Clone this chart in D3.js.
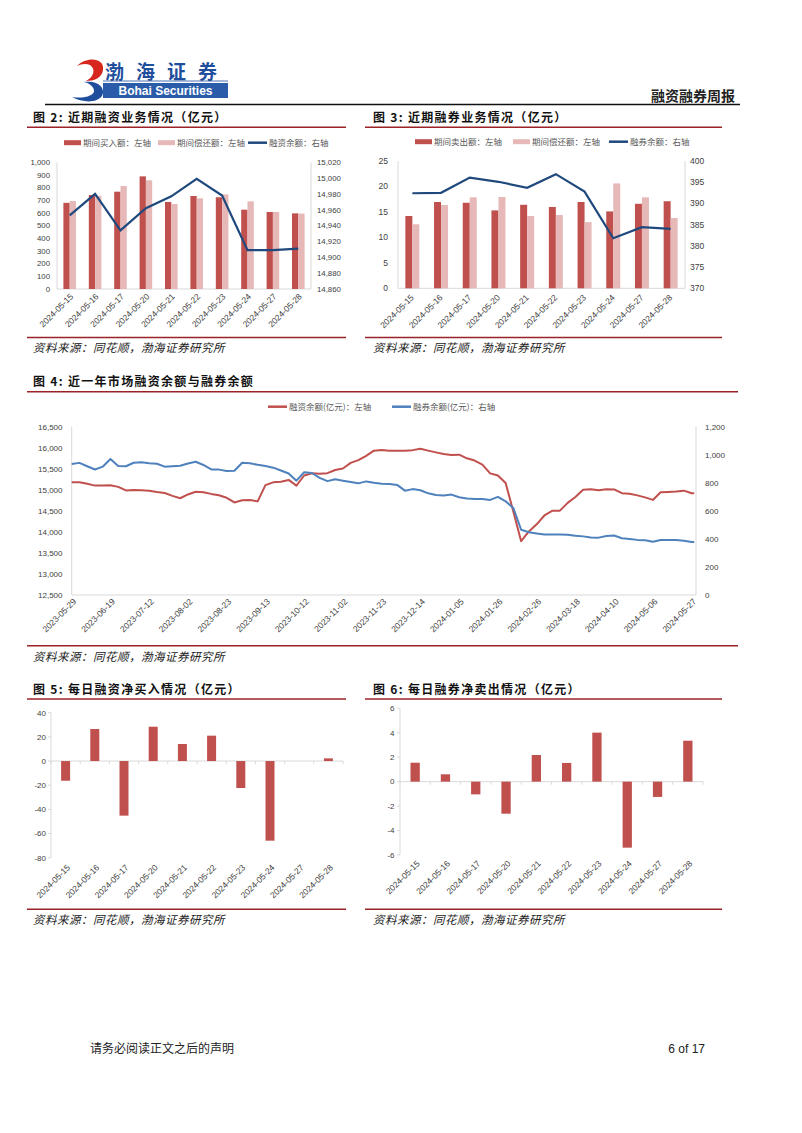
<!DOCTYPE html>
<html><head><meta charset="utf-8">
<script src="https://cdn.jsdelivr.net/npm/d3@7"></script>
<style>
body{margin:0;background:#fff;}
svg{display:block;}
text{font-family:"Liberation Sans",Arial,sans-serif;}
.cjk{font-family:"Noto Sans CJK SC","Noto Sans",sans-serif;}
</style></head><body>
<svg id="page" width="802" height="1133"></svg>
<script>
// ---------------- DATA ----------------
const recentDates = ["2024-05-15","2024-05-16","2024-05-17","2024-05-20","2024-05-21","2024-05-22","2024-05-23","2024-05-24","2024-05-27","2024-05-28"];
// 图2 融资 (亿元)
const finBuy     = [680, 742, 768, 889, 687, 734, 724, 626, 608, 597];
const finRepay   = [695, 735, 813, 858, 671, 716, 747, 692, 608, 595];
const finBalance = [14953, 14980, 14934, 14962, 14977, 14999, 14978, 14909, 14909, 14911];
// 图3 融券 (亿元)
const secSell    = [14.2, 16.95, 16.8, 15.3, 16.4, 15.97, 16.95, 15.1, 16.6, 17.1];
const secRepay   = [12.57, 16.36, 17.87, 17.93, 14.2, 14.4, 13.0, 20.6, 17.87, 13.8];
const secBalance = [392.4, 392.5, 396.1, 395.1, 393.7, 396.9, 392.8, 381.8, 384.4, 384.0];
// 图4 近一年 (每3个交易日取样，最后一点为2024-05-28)
const yearTickLabels = ["2023-05-29","2023-06-19","2023-07-12","2023-08-02","2023-08-23","2023-09-13","2023-10-12","2023-11-02","2023-11-23","2023-12-14","2024-01-05","2024-01-26","2024-02-26","2024-03-18","2024-04-10","2024-05-06","2024-05-27"];
const yearFinBalance = [15179,15180,15142,15100,15104,15110,15070,14985,14995,14990,14980,14946,14925,14856,14800,14890,14955,14940,14903,14872,14810,14700,14750,14760,14725,15110,15178,15194,15235,15100,15340,15392,15382,15395,15471,15505,15640,15705,15805,15930,15945,15931,15927,15931,15943,15975,15932,15890,15850,15830,15835,15749,15695,15600,15390,15340,15160,14480,13780,14010,14180,14390,14500,14505,14690,14830,15000,15015,14992,15015,15010,14920,14905,14868,14820,14760,14940,14950,14960,14980,14917,14917];
const yearSecBalance = [934,942,918,895,915,970,920,918,943,947,940,936,915,918,922,938,950,927,895,894,884,886,943,939,928,920,908,888,866,815,875,870,835,812,825,815,805,796,810,800,794,791,785,744,755,747,725,713,709,716,697,688,685,685,678,700,668,620,465,447,439,431,431,432,430,423,418,410,409,421,424,405,400,393,390,379,392,392,392,387,378,378];
// 图5 / 图6
const netFinBuy  = [-16.3, 26.5, -45.2, 28.4, 14.1, 21.0, -22.3, -65.9, 0, 2.2];
const netSecSell = [1.55, 0.6, -1.04, -2.62, 2.18, 1.53, 4.01, -5.4, -1.25, 3.35];

const ticks2L = d3.range(0, 1001, 100), ticks2R = d3.range(14860, 15021, 20);
const ticks3L = d3.range(0, 26, 5), ticks3R = d3.range(370, 401, 5);
const ticks4L = d3.range(12500, 16501, 500), ticks4R = d3.range(0, 1201, 200);
const ticks5 = d3.range(-80, 41, 20), ticks6 = d3.range(-6, 7, 2);

// ---------------- STYLE ----------------
const RED = "#C0504D", PINK = "#E6B9B8", NAVY = "#1F497D", BLUE = "#4F81BD";
const DARKRED = "#9B2226", AXIS = "#D9D9D9", LBL = "#404040";
const fmt = d3.format(",");

const svg = d3.select("#page");
svg.append("rect").attr("width",802).attr("height",1133).attr("fill","#fff");

// ---------------- HEADER ----------------
const hdr = svg.append("g");
hdr.append("path").attr("fill","#D7261E")
  .attr("d","M77 66 C87 56 105 58 103 70 C102 78 94 81 86 81 C94 77 96 69 90 65 C86 63 81 64 77 66 Z");
hdr.append("path").attr("fill","#1F4E9C")
  .attr("d","M84 82 C99 80 106 89 102 96 C97 103 83 103 72 97 C83 99 95 96 94 90 C93 86 89 83 84 82 Z");
hdr.append("text").attr("class","cjk").attr("x",105).attr("y",79).attr("font-size",19).attr("font-weight",700)
  .attr("fill","#1F4E9C").attr("letter-spacing",12).text("渤海证券");
hdr.append("line").attr("x1",103).attr("x2",228).attr("y1",81).attr("y2",81).attr("stroke","#1F4E9C").attr("stroke-width",0.8);
hdr.append("rect").attr("x",103).attr("y",83).attr("width",125).attr("height",15).attr("fill","#2A5CAA");
hdr.append("text").attr("x",165.5).attr("y",95).attr("text-anchor","middle").attr("font-size",12).attr("font-weight",700)
  .attr("fill","#fff").text("Bohai Securities");
hdr.append("text").attr("class","cjk").attr("x",735).attr("y",101).attr("text-anchor","end").attr("font-size",14)
  .attr("font-weight",700).attr("fill","#222").text("融资融券周报");
hdr.append("line").attr("x1",45).attr("x2",740).attr("y1",104.5).attr("y2",104.5).attr("stroke","#111").attr("stroke-width",1.5);

// footer
svg.append("text").attr("class","cjk").attr("x",90).attr("y",1053).attr("font-size",12).attr("fill","#222").text("请务必阅读正文之后的声明");
svg.append("text").attr("x",705).attr("y",1053).attr("text-anchor","end").attr("font-size",12)
  .attr("font-family","Liberation Serif,serif").attr("fill","#222").text("6 of 17");

// ---------------- HELPERS ----------------
function frame(x1, x2, tx, title, titleY, lineY, srcLineY, srcY){
  const g = svg.append("g");
  g.append("text").attr("class","cjk").attr("x",tx).attr("y",titleY).attr("font-size",12).attr("font-weight",700)
    .attr("letter-spacing",1.3).attr("fill","#111").text(title);
  g.append("line").attr("x1",x1).attr("x2",x2).attr("y1",lineY).attr("y2",lineY).attr("stroke",DARKRED).attr("stroke-width",1.5);
  g.append("line").attr("x1",x1).attr("x2",x2).attr("y1",srcLineY).attr("y2",srcLineY).attr("stroke",DARKRED).attr("stroke-width",1.5);
  g.append("text").attr("class","cjk").attr("x",tx).attr("y",srcY).attr("font-size",11.5).attr("font-style","italic")
    .attr("letter-spacing",0.5).attr("fill","#222").text("资料来源：同花顺，渤海证券研究所");
}
function vline(x, y1, y2){
  svg.append("line").attr("x1",x).attr("x2",x).attr("y1",y1).attr("y2",y2).attr("stroke",AXIS).attr("stroke-width",1);
}
function hline(x1, x2, y){
  svg.append("line").attr("x1",x1).attr("x2",x2).attr("y1",y).attr("y2",y).attr("stroke",AXIS).attr("stroke-width",1);
}
function yLabels(scale, ticks, x, anchor, f, size){
  svg.append("g").selectAll("text").data(ticks).join("text")
    .attr("x",x).attr("y",d=>scale(d)).attr("dy","0.35em").attr("text-anchor",anchor)
    .attr("font-size",size||8).attr("fill",LBL).text(d=>f(d));
}
function xRot(labels, xf, y, dx, size){
  svg.append("g").selectAll("text").data(labels).join("text")
    .attr("transform",(d,i)=>`translate(${xf(d,i)+dx},${y}) rotate(-45)`)
    .attr("text-anchor","end").attr("dy","0.35em").attr("font-size",size||8.5).attr("fill",LBL).text(d=>d);
}
function legend(items, y){
  const g = svg.append("g");
  items.forEach(it=>{
    if(it.type==="rect") g.append("rect").attr("x",it.x).attr("y",y-2.5).attr("width",17).attr("height",5).attr("fill",it.color);
    else g.append("line").attr("x1",it.x).attr("x2",it.x+19).attr("y1",y).attr("y2",y).attr("stroke",it.color).attr("stroke-width",2.5);
    g.append("text").attr("class","cjk").attr("x",it.tx).attr("y",y).attr("dy","0.35em").attr("font-size",8.5)
      .attr("fill","#595959").text(it.label);
  });
}

// ---------------- 图2 ----------------
frame(27, 346, 33, "图 2:  近期融资业务情况（亿元）", 121.5, 127.3, 337.5, 352);
{
  const x = d3.scaleBand().domain(recentDates).range([57, 311]);
  const yL = d3.scaleLinear().domain([0,1000]).range([289,162.3]);
  const yR = d3.scaleLinear().domain([14860,15020]).range([289,162.3]);
  const bw = 6.3;
  vline(57,162.3,289); vline(311,162.3,289); hline(57,311,289);
  svg.append("g").selectAll("rect").data(finBuy).join("rect")
    .attr("x",(d,i)=>x(recentDates[i])+x.bandwidth()/2-bw).attr("width",bw)
    .attr("y",d=>yL(d)).attr("height",d=>yL(0)-yL(d)).attr("fill",RED);
  svg.append("g").selectAll("rect").data(finRepay).join("rect")
    .attr("x",(d,i)=>x(recentDates[i])+x.bandwidth()/2).attr("width",bw)
    .attr("y",d=>yL(d)).attr("height",d=>yL(0)-yL(d)).attr("fill",PINK);
  svg.append("path").datum(finBalance).attr("fill","none").attr("stroke",NAVY).attr("stroke-width",2.2)
    .attr("d",d3.line().x((d,i)=>x(recentDates[i])+x.bandwidth()/2).y(d=>yR(d)));
  yLabels(yL, ticks2L, 50, "end", fmt, 7.8);
  yLabels(yR, ticks2R, 317, "start", fmt, 7.8);
  xRot(recentDates, d=>x(d)+x.bandwidth()/2, 295, 2, 8.5);
  legend([{type:"rect",x:64,tx:83,color:RED,label:"期间买入额：左轴"},
          {type:"rect",x:158,tx:177,color:PINK,label:"期间偿还额：左轴"},
          {type:"line",x:248,tx:269,color:NAVY,label:"融资余额：右轴"}], 142.7);
}

// ---------------- 图3 ----------------
frame(365, 722, 373, "图 3:  近期融券业务情况（亿元）", 121.5, 127.3, 337.5, 352);
{
  const x = d3.scaleBand().domain(recentDates).range([398, 685]);
  const yL = d3.scaleLinear().domain([0,25]).range([288.3,161]);
  const yR = d3.scaleLinear().domain([370,400]).range([288.3,161]);
  const bw = 7;
  vline(398,161,288.3); vline(685,161,288.3); hline(398,685,288.3);
  svg.append("g").selectAll("rect").data(secSell).join("rect")
    .attr("x",(d,i)=>x(recentDates[i])+x.bandwidth()/2-bw).attr("width",bw)
    .attr("y",d=>yL(d)).attr("height",d=>yL(0)-yL(d)).attr("fill",RED);
  svg.append("g").selectAll("rect").data(secRepay).join("rect")
    .attr("x",(d,i)=>x(recentDates[i])+x.bandwidth()/2).attr("width",bw)
    .attr("y",d=>yL(d)).attr("height",d=>yL(0)-yL(d)).attr("fill",PINK);
  svg.append("path").datum(secBalance).attr("fill","none").attr("stroke",NAVY).attr("stroke-width",2.2)
    .attr("d",d3.line().x((d,i)=>x(recentDates[i])+x.bandwidth()/2).y(d=>yR(d)));
  yLabels(yL, ticks3L, 388, "end", d=>d, 8.5);
  yLabels(yR, ticks3R, 690, "start", d=>d, 8.5);
  xRot(recentDates, d=>x(d)+x.bandwidth()/2, 296, 0, 8.5);
  legend([{type:"rect",x:415,tx:434,color:RED,label:"期间卖出额：左轴"},
          {type:"rect",x:513,tx:532,color:PINK,label:"期间偿还额：左轴"},
          {type:"line",x:609,tx:630,color:NAVY,label:"融券余额：右轴"}], 141.7);
}

// ---------------- 图4 ----------------
frame(27, 738, 33, "图 4:  近一年市场融资余额与融券余额", 386, 391.7, 645.7, 661);
{
  const idx = d3.range(0, 241, 3).concat([241]);   // trading-day index of each sample
  const x = d3.scaleLinear().domain([0,241]).range([71.7, 71.7 + 241*2.583]);
  const yL = d3.scaleLinear().domain([12500,16500]).range([595,426.7]);
  const yR = d3.scaleLinear().domain([0,1200]).range([595,426.7]);
  vline(71.7,426.7,595); vline(696,426.7,595); hline(71.7,696,595);
  svg.append("path").datum(yearFinBalance).attr("fill","none").attr("stroke",RED).attr("stroke-width",2)
    .attr("stroke-linejoin","round").attr("d",d3.line().x((d,i)=>x(idx[i])).y(d=>yL(d)));
  svg.append("path").datum(yearSecBalance).attr("fill","none").attr("stroke",BLUE).attr("stroke-width",2)
    .attr("stroke-linejoin","round").attr("d",d3.line().x((d,i)=>x(idx[i])).y(d=>yR(d)));
  yLabels(yL, ticks4L, 62.5, "end", fmt, 8);
  yLabels(yR, ticks4R, 705, "start", fmt, 8);
  xRot(yearTickLabels, (d,i)=>x(i*15), 600, 3, 8.5);
  legend([{type:"line",x:268,tx:289,color:RED,label:"融资余额(亿元)：左轴"},
          {type:"line",x:392,tx:413,color:BLUE,label:"融券余额(亿元)：右轴"}], 406.7);
}

// ---------------- 图5 ----------------
frame(27, 346, 33, "图 5:  每日融资净买入情况（亿元）", 694, 699, 909.3, 924);
{
  const x = d3.scaleBand().domain(recentDates).range([51, 343]);
  const y = d3.scaleLinear().domain([-80,40]).range([857.7,712.7]);
  const bw = 9;
  vline(51,712.7,857.7); hline(51,343,y(0));
  svg.append("g").selectAll("line").data(d3.range(recentDates.length+1)).join("line")
    .attr("x1",i=>51+i*x.bandwidth()).attr("x2",i=>51+i*x.bandwidth()).attr("y1",y(0)).attr("y2",y(0)+3).attr("stroke",AXIS);
  svg.append("g").selectAll("line").data(ticks5).join("line")
    .attr("x1",48).attr("x2",51).attr("y1",d=>y(d)).attr("y2",d=>y(d)).attr("stroke",AXIS);
  svg.append("g").selectAll("rect").data(netFinBuy).join("rect")
    .attr("x",(d,i)=>x(recentDates[i])+x.bandwidth()/2-bw/2).attr("width",bw)
    .attr("y",d=>y(Math.max(0,d))).attr("height",d=>Math.abs(y(d)-y(0))).attr("fill",RED);
  yLabels(y, ticks5, 46, "end", d=>d, 8);
  xRot(recentDates, d=>x(d)+x.bandwidth()/2, 866, 3, 8.5);
}

// ---------------- 图6 ----------------
frame(365, 722, 373, "图 6:  每日融券净卖出情况（亿元）", 694, 699, 909.3, 924);
{
  const x = d3.scaleBand().domain(recentDates).range([400, 703]);
  const y = d3.scaleLinear().domain([-6,6]).range([855,708.3]);
  const bw = 9.3;
  vline(400,708.3,855); hline(400,703,y(0));
  svg.append("g").selectAll("line").data(d3.range(recentDates.length+1)).join("line")
    .attr("x1",i=>400+i*x.bandwidth()).attr("x2",i=>400+i*x.bandwidth()).attr("y1",y(0)).attr("y2",y(0)+3).attr("stroke",AXIS);
  svg.append("g").selectAll("line").data(ticks6).join("line")
    .attr("x1",397).attr("x2",400).attr("y1",d=>y(d)).attr("y2",d=>y(d)).attr("stroke",AXIS);
  svg.append("g").selectAll("rect").data(netSecSell).join("rect")
    .attr("x",(d,i)=>x(recentDates[i])+x.bandwidth()/2-bw/2).attr("width",bw)
    .attr("y",d=>y(Math.max(0,d))).attr("height",d=>Math.abs(y(d)-y(0))).attr("fill",RED);
  yLabels(y, ticks6, 394.5, "end", d=>d, 8);
  xRot(recentDates, d=>x(d)+x.bandwidth()/2, 862, 3, 8.5);
}
</script>
</body></html>
